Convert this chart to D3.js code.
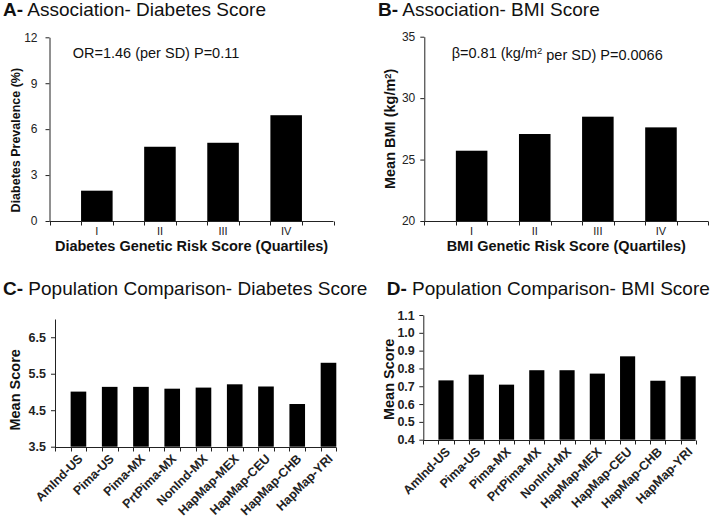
<!DOCTYPE html>
<html>
<head>
<meta charset="utf-8">
<script src="https://cdn.jsdelivr.net/npm/d3@7"></script>
<style>
  html, body { margin: 0; padding: 0; background: #fff; }
  svg { display: block; font-family: Arial, "Liberation Sans", sans-serif; }
</style>
</head>
<body>
<svg id="chart" width="712" height="518"></svg>
<script>
// ---------- data ----------
const quartiles = ["I", "II", "III", "IV"];
const diabetesPrevalence = [1.98, 4.85, 5.11, 6.91];
const meanBMI = [25.72, 27.08, 28.49, 27.62];

const populations = ["AmInd-US", "Pima-US", "Pima-MX", "PrtPima-MX", "NonInd-MX",
                     "HapMap-MEX", "HapMap-CEU", "HapMap-CHB", "HapMap-YRI"];
const diabetesScore = [5.01, 5.14, 5.14, 5.09, 5.12, 5.21, 5.15, 4.67, 5.80];
const bmiScore = [0.733, 0.765, 0.709, 0.790, 0.790, 0.771, 0.868, 0.731, 0.756];

const ticksA = [0, 3, 6, 9, 12];
const ticksB = [20, 25, 30, 35];
const ticksC = [3.5, 4.5, 5.5, 6.5];
const ticksD = [0.4, 0.5, 0.6, 0.7, 0.8, 0.9, 1.0, 1.1];

// ---------- drawing ----------
const svg = d3.select("#chart");
const AX = "#222";

function title(x, y, bold, rest) {
  const t = svg.append("text").attr("x", x).attr("y", y)
    .attr("font-size", 19).attr("fill", "#111");
  t.append("tspan").attr("font-weight", "bold").text(bold);
  t.append("tspan").text(" " + rest);
}

function panel(cfg) {
  const g = svg.append("g");
  const x = d3.scaleBand().domain(cfg.cats).range(cfg.xr);
  if (cfg.rotated) x.paddingInner(0.5).paddingOuter(0.25).align(1);
  else x.padding(0.5);
  const y = d3.scaleLinear().domain(cfg.yd).range(cfg.yr);

  // bars
  g.selectAll("rect.bar").data(cfg.vals).join("rect")
    .attr("class", "bar")
    .attr("x", (d, i) => x(cfg.cats[i]))
    .attr("width", x.bandwidth())
    .attr("y", d => y(d))
    .attr("height", d => y(cfg.yd[0]) - y(d))
    .attr("fill", "#000");

  // y axis
  const ya = g.append("g")
    .attr("transform", `translate(${cfg.xr[0]},0)`)
    .call(d3.axisLeft(y).tickValues(cfg.ticks).tickFormat(cfg.fmt)
      .tickSize(4).tickSizeOuter(0).tickPadding(cfg.tickPad));
  ya.select(".domain").attr("stroke", AX);
  ya.selectAll(".tick line").attr("stroke", AX);
  ya.selectAll(".tick text")
    .attr("font-family", "Arial, 'Liberation Sans', sans-serif")
    .attr("font-size", cfg.tickFont)
    .attr("font-weight", cfg.tickBold ? "bold" : "normal")
    .attr("fill", "#222");

  // x axis line + ticks at band edges
  const y0 = Math.round(y(cfg.yd[0])) + 0.5;
  g.append("line")
    .attr("x1", cfg.xr[0]).attr("x2", cfg.xr[1])
    .attr("y1", y0).attr("y2", y0).attr("stroke", AX);
  const edges = [cfg.xr[0], cfg.xr[1]];
  cfg.cats.forEach(c => { edges.push(x(c)); edges.push(x(c) + x.bandwidth()); });
  const uniq = Array.from(new Set(edges.map(e => Math.round(e))));
  g.selectAll("line.xt").data(uniq).join("line")
    .attr("class", "xt")
    .attr("x1", d => d + 0.5).attr("x2", d => d + 0.5)
    .attr("y1", y0).attr("y2", y0 + 4).attr("stroke", AX);

  // category labels
  if (cfg.rotated) {
    g.selectAll("text.cat").data(cfg.cats).join("text")
      .attr("class", "cat")
      .attr("transform", d => `translate(${x(d) + x.bandwidth() / 2 + 5},${y0 + 12}) rotate(-45)`)
      .attr("text-anchor", "end")
      .attr("font-size", 12.5).attr("font-weight", "bold").attr("fill", "#222")
      .text(d => d);
  } else {
    g.selectAll("text.cat").data(cfg.cats).join("text")
      .attr("class", "cat")
      .attr("x", d => x(d) + x.bandwidth() / 2)
      .attr("y", y0 + 13.5)
      .attr("text-anchor", "middle")
      .attr("font-size", 11).attr("fill", "#222")
      .text(d => d);
  }

  // x title
  if (cfg.xTitle) {
    g.append("text")
      .attr("x", (cfg.xr[0] + cfg.xr[1]) / 2).attr("y", cfg.xTitleY)
      .attr("text-anchor", "middle")
      .attr("font-size", 14.5).attr("font-weight", "bold").attr("fill", "#111")
      .text(cfg.xTitle);
  }

  // y title
  const yt = g.append("text")
    .attr("transform", `translate(${cfg.yTitleX},${(y.range()[0] + y.range()[1]) / 2 + cfg.yTitleDy}) rotate(-90)`)
    .attr("text-anchor", "middle")
    .attr("font-size", cfg.yTitleSize).attr("font-weight", "bold").attr("fill", "#111");
  if (cfg.yTitleSup) {
    yt.append("tspan").text(cfg.yTitle);
    yt.append("tspan").attr("dy", "-0.45em").attr("font-size", "0.65em").text("2");
    yt.append("tspan").attr("dy", "0.3em").text(")");
  } else {
    yt.text(cfg.yTitle);
  }
  return { x, y };
}

// Titles
title(3, 16, "A-", "Association- Diabetes Score");
title(378, 16, "B-", "Association- BMI Score");
title(3, 295, "C-", "Population Comparison- Diabetes Score");
title(386.7, 295, "D-", "Population Comparison- BMI Score");

// Panel A
panel({
  cats: quartiles, vals: diabetesPrevalence,
  xr: [49.5, 333.5], yd: [0, 12], yr: [221, 37.3],
  ticks: ticksA, fmt: d3.format("d"), tickPad: 8, tickFont: 12, tickBold: false,
  xTitle: "Diabetes Genetic Risk Score (Quartiles)", xTitleY: 250.5,
  yTitle: "Diabetes Prevalence (%)", yTitleX: 19.5, yTitleDy: 11, yTitleSize: 12.5
});
svg.append("text").attr("x", 72.7).attr("y", 58)
  .attr("font-size", 14.5).attr("fill", "#111")
  .text("OR=1.46 (per SD) P=0.11");

// Panel B
panel({
  cats: quartiles, vals: meanBMI,
  xr: [424.3, 708.3], yd: [20, 35], yr: [221, 36.7],
  ticks: ticksB, fmt: d3.format("d"), tickPad: 5, tickFont: 12, tickBold: false,
  xTitle: "BMI Genetic Risk Score (Quartiles)", xTitleY: 250.5,
  yTitle: "Mean BMI (kg/m", yTitleSup: true, yTitleX: 395, yTitleDy: 0, yTitleSize: 14.5
});
const ann = svg.append("text").attr("x", 451.7).attr("y", 58)
  .attr("font-size", 14.5).attr("fill", "#111");
ann.append("tspan").text("β=0.81 (kg/m");
ann.append("tspan").attr("dy", "-0.45em").attr("font-size", "0.65em").text("2");
ann.append("tspan").attr("dy", "0.45em").text(" per SD) P=0.0066");

// Panel C
panel({
  cats: populations, vals: diabetesScore, rotated: true,
  xr: [55, 336.3], yd: [3.5, 7], yr: [446.7, 319],
  ticks: ticksC, fmt: d3.format(".1f"), tickPad: 5, tickFont: 12.5, tickBold: true,
  yTitle: "Mean Score", yTitleX: 20, yTitleDy: 7, yTitleSize: 14.5
});

// Panel D
panel({
  cats: populations, vals: bmiScore, rotated: true,
  xr: [423.3, 695.7], yd: [0.4, 1.1], yr: [439.7, 315],
  ticks: ticksD, fmt: d3.format(".1f"), tickPad: 4.5, tickFont: 12.5, tickBold: true,
  yTitle: "Mean Score", yTitleX: 394.3, yTitleDy: 2, yTitleSize: 14.5
});
</script>
</body>
</html>
